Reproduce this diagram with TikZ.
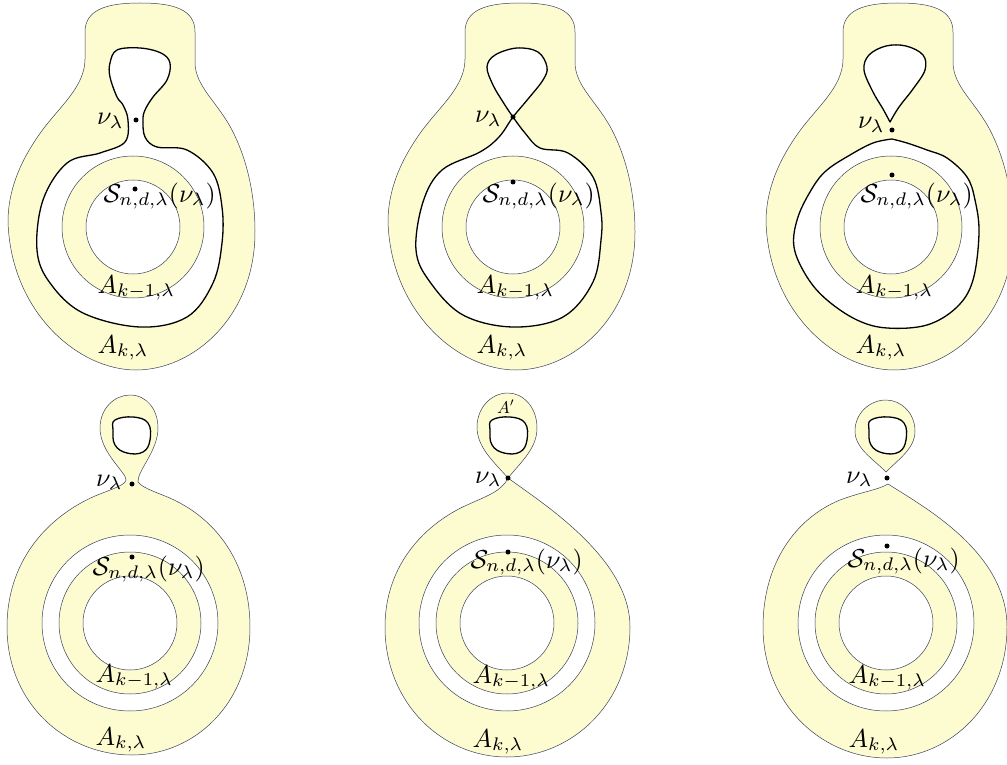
\documentclass[tikz,border=0pt]{standalone}
\definecolor{pale}{RGB}{252,252,208}
\definecolor{edge}{RGB}{60,64,90}
\tikzset{
  region/.style={fill=pale, draw=edge, line width=0.5pt},
  hole/.style={fill=white, draw=edge, line width=0.5pt},
  curve/.style={fill=white, draw=black, line width=1.3pt, line join=round},
  pt/.style={circle, fill=black, inner sep=0pt, minimum size=5pt},
  lab/.style={inner sep=0pt, scale=2.6},
  smalllab/.style={inner sep=0pt, scale=1.7}
}
\newcommand{\topouter}{(7,-224) .. controls (40,-224) and (62,-218) .. (62,-195) -- (62,-165)
  .. controls (62,-140) and (85,-125) .. (100,-95)
  .. controls (115,-65) and (122,-30) .. (122,5)
  .. controls (122,90) and (60,143) .. (3,143)
  .. controls (-55,143) and (-122,85) .. (-125,-5)
  .. controls (-125,-40) and (-110,-70) .. (-92,-95)
  .. controls (-74,-120) and (-48,-140) .. (-48,-168) -- (-48,-195)
  .. controls (-48,-218) and (-25,-224) .. (7,-224) -- cycle}
\newcommand{\annulus}[1]{%
  \fill[pale] (0,0) circle[radius=71];
  \draw[edge, line width=0.5pt] (0,0) circle[radius=71];
  \filldraw[hole] (0,0) circle[radius=47];}
\newcommand{\smallloop}{plot[smooth cycle, tension=0.7] coordinates {(-15,-203) (3,-206) (18,-200) (20,-183) (13,-171) (-3,-170) (-15,-178) (-17,-193)}}
\begin{document}
\begin{tikzpicture}[x=1pt,y=-1pt]
\useasboundingbox (0,0) rectangle (1007,765);

% ---------- panel 1 ----------
\begin{scope}[shift={(133,227)}]
  \filldraw[region] \topouter;
  \filldraw[curve] plot[smooth cycle, tension=0.6] coordinates {(7,-179) (28,-174) (37,-164) (34,-147) (20,-130) (12,-117) (10,-107) (12,-90) (24,-80) (54,-77) (80,-54) (89,-20) (89,16) (80,56) (54,90) (7,100) (-50,86) (-83,56) (-96,23) (-90,-27) (-66,-64) (-33,-74) (-8,-85) (-5,-107) (-10,-122) (-16,-130) (-23,-150) (-23,-164) (-16,-177)};
  \annulus{}
\end{scope}
\node[pt] (nu1) at (136,120) {};
\node[pt] (s1) at (135,189) {};
\node[lab, anchor=base east] (lnu1) at (124,125) {$\nu_\lambda$};
\node[lab, anchor=base west] (ls1) at (103,202) {$\mathcal{S}_{n,d,\lambda}(\nu_\lambda)$};
\node[lab, anchor=base west] (la1) at (97,293) {$A_{k-1,\lambda}$};
\node[lab, anchor=base west] (lb1) at (97,353) {$A_{k,\lambda}$};

% ---------- panel 2 ----------
\begin{scope}[shift={(513,227)}]
  \filldraw[region] \topouter;
  \filldraw[curve] plot[smooth cycle, tension=0.6] coordinates {(0,-110) (12,-94) (27,-79) (55,-74) (80,-50) (88,-15) (88,13) (80,55) (50,90) (0,100) (-50,88) (-83,55) (-97,23) (-90,-25) (-71,-57) (-33,-75) (-14,-90) (0,-110) (15,-128) (30,-147) (34,-160) (25,-175) (4,-179) (-18,-172) (-26,-160) (-20,-142) (-10,-125)};
  \annulus{}
\end{scope}
\node[pt] (nu2) at (513,117) {};
\node[pt] (s2) at (513,182) {};
\node[lab, anchor=base east] (lnu2) at (502,123) {$\nu_\lambda$};
\node[lab, anchor=base west] (ls2) at (482,202) {$\mathcal{S}_{n,d,\lambda}(\nu_\lambda)$};
\node[lab, anchor=base west] (la2) at (476,293) {$A_{k-1,\lambda}$};
\node[lab, anchor=base west] (lb2) at (476,353) {$A_{k,\lambda}$};

% ---------- panel 3 ----------
\begin{scope}[shift={(891,227)}]
  \filldraw[region] \topouter;
  \filldraw[curve] plot[smooth, tension=0.6] coordinates {(-1,-105) (8,-120) (22,-138) (34,-157) (32,-172) (15,-181) (-5,-181) (-22,-172) (-27,-157) (-18,-135) (-8,-118) (-1,-105)} -- cycle;
  \filldraw[curve] plot[smooth, tension=0.6] coordinates {(1,-88) (16,-84) (36,-77) (56,-69) (76,-50) (84,-27) (88,6) (82,53) (66,80) (36,98) (-4,101) (-34,93) (-64,73) (-84,50) (-97,20) (-93,-10) (-78,-40) (-64,-57) (-41,-72) (-18,-84) (1,-88)} -- cycle;
  \annulus{}
\end{scope}
\node[pt] (nu3) at (892,130) {};
\node[pt] (s3) at (892,175) {};
\node[lab, anchor=base east] (lnu3) at (885,129) {$\nu_\lambda$};
\node[lab, anchor=base west] (ls3) at (860,202) {$\mathcal{S}_{n,d,\lambda}(\nu_\lambda)$};
\node[lab, anchor=base west] (la3) at (855,293) {$A_{k-1,\lambda}$};
\node[lab, anchor=base west] (lb3) at (855,353) {$A_{k,\lambda}$};

% ---------- panel 4 ----------
\begin{scope}[shift={(130,623)}]
  \filldraw[region] (8,-141) .. controls (12,-136) and (20,-133) .. (35,-127)
    .. controls (90,-105) and (120,-55) .. (120,4)
    .. controls (120,80) and (65,132) .. (2,132)
    .. controls (-65,132) and (-123,80) .. (-123,4)
    .. controls (-123,-60) and (-85,-105) .. (-35,-127)
    .. controls (-15,-135) and (-5,-138) .. (-4,-143)
    .. controls (-3,-150) and (-30,-170) .. (-30,-195)
    .. controls (-30,-215) and (-15,-228) .. (0,-228)
    .. controls (17,-228) and (28,-213) .. (28,-195)
    .. controls (28,-172) and (7,-152) .. (8,-141) -- cycle;
  \filldraw[hole] (0,0) circle[radius=88];
  \annulus{}
  \filldraw[curve] \smallloop;
\end{scope}
\node[pt] (nu4) at (132,484) {};
\node[pt] (s4) at (132,557) {};
\node[lab, anchor=base east] (lnu4) at (123,486) {$\nu_\lambda$};
\node[lab, anchor=base west] (ls4) at (92,575) {$\mathcal{S}_{n,d,\lambda}(\nu_\lambda)$};
\node[lab, anchor=base west] (la4) at (95,682) {$A_{k-1,\lambda}$};
\node[lab, anchor=base west] (lb4) at (95,745) {$A_{k,\lambda}$};

% ---------- panel 5 ----------
\begin{scope}[shift={(507,623)}]
  \filldraw[region] (1,-145) .. controls (15,-162) and (30,-175) .. (30,-195)
    .. controls (30,-216) and (16,-230) .. (1,-230)
    .. controls (-16,-230) and (-30,-215) .. (-30,-196)
    .. controls (-30,-176) and (-14,-162) .. (1,-145) -- cycle;
  \filldraw[region] (1,-145) .. controls (35,-120) and (123,-65) .. (123,4)
    .. controls (123,80) and (65,134) .. (0,134)
    .. controls (-65,134) and (-122,80) .. (-122,4)
    .. controls (-122,-60) and (-80,-100) .. (-40,-118)
    .. controls (-20,-127) and (-5,-132) .. (1,-145) -- cycle;
  \filldraw[hole] (0,0) circle[radius=88];
  \annulus{}
  \filldraw[curve] \smallloop;
\end{scope}
\node[pt] (nu5) at (508,478) {};
\node[pt] (s5) at (508,552) {};
\node[lab, anchor=base east] (lnu5) at (502,483) {$\nu_\lambda$};
\node[lab, anchor=base west] (ls5) at (470,568) {$\mathcal{S}_{n,d,\lambda}(\nu_\lambda)$};
\node[lab, anchor=base west] (la5) at (472,683) {$A_{k-1,\lambda}$};
\node[lab, anchor=base west] (lb5) at (472,747) {$A_{k,\lambda}$};
\node[smalllab, anchor=base] (lap) at (506,413) {$A'$};

% ---------- panel 6 ----------
\begin{scope}[shift={(886,623)}]
  \filldraw[region] (0,-151) .. controls (14,-165) and (29,-175) .. (29,-192)
    .. controls (29,-210) and (15,-223) .. (0,-223)
    .. controls (-16,-223) and (-31,-210) .. (-31,-192)
    .. controls (-31,-175) and (-14,-165) .. (0,-151) -- cycle;
  \filldraw[region] (2,-139) .. controls (40,-115) and (121,-70) .. (121,4)
    .. controls (121,80) and (65,135) .. (1,135)
    .. controls (-65,135) and (-123,80) .. (-123,4)
    .. controls (-123,-60) and (-90,-105) .. (-46,-123)
    .. controls (-25,-131) and (-8,-133) .. (2,-139) -- cycle;
  \filldraw[hole] (0,0) circle[radius=88];
  \annulus{}
  \filldraw[curve] \smallloop;
\end{scope}
\node[pt] (nu6) at (887,478) {};
\node[pt] (s6) at (887,546) {};
\node[lab, anchor=base east] (lnu6) at (873,483) {$\nu_\lambda$};
\node[lab, anchor=base west] (ls6) at (847,567) {$\mathcal{S}_{n,d,\lambda}(\nu_\lambda)$};
\node[lab, anchor=base west] (la6) at (848,683) {$A_{k-1,\lambda}$};
\node[lab, anchor=base west] (lb6) at (848,747) {$A_{k,\lambda}$};
\end{tikzpicture}
\end{document}
